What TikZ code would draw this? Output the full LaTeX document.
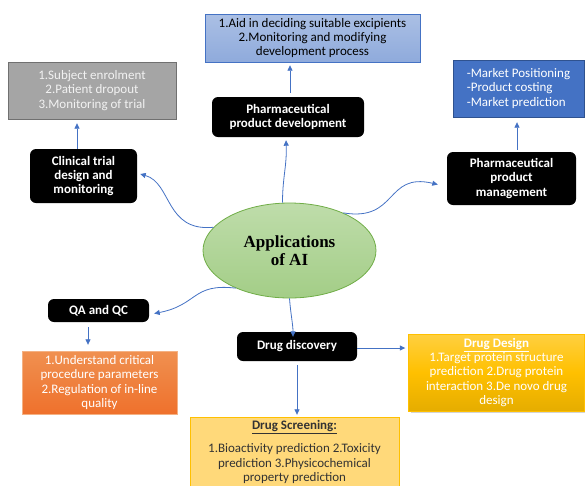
\documentclass[tikz,border=0pt]{standalone}
\usepackage{fontspec}
\setmainfont{Carlito}
\newfontfamily\serifbold{Liberation Serif}
\usetikzlibrary{arrows.meta,shadows,shapes.geometric}

\definecolor{linkblue}{HTML}{4472C4}
\definecolor{darkblue}{HTML}{2F528F}
\definecolor{palegreen}{HTML}{A9D18E}
\definecolor{leafgreen}{HTML}{70AD47}
\definecolor{boxgrey}{HTML}{A5A5A5}
\definecolor{edgegrey}{HTML}{707070}
\definecolor{boxorange}{HTML}{ED7D31}
\definecolor{lightorange}{HTML}{F4B183}
\definecolor{gold}{HTML}{FFC000}
\definecolor{paleyellow}{HTML}{FFD97A}

\tikzset{
  link/.style={draw=linkblue, line width=0.8pt, -{Triangle[length=5.5pt,width=5pt]}},
  topic/.style={fill=black, text=white, rounded corners=6pt, align=center, inner sep=0pt,
    font=\fontsize{13}{14.3}\selectfont\bfseries},
  infobox/.style={draw, align=center, inner sep=0pt, font=\fontsize{13}{14.3}\selectfont},
}

\begin{document}
\begin{tikzpicture}[x=1pt,y=-1pt]
	\useasboundingbox (0,0) rectangle (585,485);

	% Centre
	\node[ellipse, draw=leafgreen, line width=0.8pt, top color=palegreen!75!white, bottom color=palegreen!90!leafgreen,
		minimum width=173pt, minimum height=95pt, align=center, inner sep=0pt,
		font=\serifbold\fontsize{17}{18}\selectfont\bfseries] (ai) at (289.5,250.5) {Applications\\of AI};

	% Application areas
	\node[topic, minimum width=152pt, minimum height=40pt] (devbox) at (288,117) {Pharmaceutical\\product development};
	\node[topic, minimum width=107pt, minimum height=54pt] (trialbox) at (83.5,176) {Clinical trial\\design and\\monitoring};
	\node[topic, minimum width=129pt, minimum height=53pt] (mgmtbox) at (511.5,178.5) {Pharmaceutical\\product\\management};
	\node[topic, minimum width=101pt, minimum height=23pt] (qabox) at (98.5,310.5) {QA and QC};
	\node[topic, minimum width=120pt, minimum height=29pt] (ddbox) at (297,346.5) {Drug discovery};

	% Details
	\node[infobox, draw=linkblue, top color=linkblue!45!white, bottom color=linkblue!60!white,
		minimum width=215pt, minimum height=48pt] (devtxt) at (312.5,38)
		{1.Aid in deciding suitable excipients\\2.Monitoring and modifying\\development process};
	\node[infobox, draw=edgegrey, fill=boxgrey, text=white!95!black,
		minimum width=168pt, minimum height=57pt] (trialtxt) at (92,90.5)
		{1.Subject enrolment\\2.Patient dropout\\3.Monitoring of trial};
	\node[infobox, draw=darkblue, fill=linkblue, text=white, align=left,
		minimum width=131pt, minimum height=57pt] (mgmttxt) at (518.5,88.5)
		{-Market Positioning\\-Product costing\\-Market prediction};
	\node[infobox, draw=lightorange, text=white, top color=boxorange!85!white, bottom color=boxorange!90!red,
		minimum width=155pt, minimum height=63pt] (qatxt) at (99.5,382.5)
		{1.Understand critical\\procedure parameters\\2.Regulation of in-line\\quality};
	\node[infobox, draw=gold, text=white, top color=gold!75!white, bottom color=gold!90!black, middle color=gold,
		drop shadow={opacity=0.35, shadow xshift=2pt, shadow yshift=-2pt},
		minimum width=176pt, minimum height=77pt] (designtxt) at (496.5,372.5)
		{\underline{\textbf{Drug Design}}\\1.Target protein structure\\prediction 2.Drug protein\\interaction 3.De novo drug\\design};
	\node[infobox, draw=gold, fill=paleyellow, text=black!80,
		minimum width=209pt, minimum height=70pt] (screentxt) at (294.5,452)
		{\underline{\textbf{Drug Screening:}}\\[9pt]1.Bioactivity prediction 2.Toxicity\\prediction 3.Physicochemical\\property prediction};

	% Curved links from the centre
	\draw[link] ([xshift=-7pt]ai.north) .. controls +(0,-25) and +(1,25) .. ([xshift=-2pt,yshift=-3pt]devbox.south);
	\draw[link] (ai.163) .. controls (165,232) and (172,183) .. ([xshift=3pt,yshift=2pt]trialbox.east);
	\draw[link] (ai.35) .. controls (398,222) and (385,172) .. ([xshift=-9pt,yshift=-6pt]mgmtbox.west);
	\draw[link] (ai.215) .. controls (192,283) and (198,305) .. ([xshift=5pt,yshift=-3pt]qabox.east);
	\draw[link] (ai.south) .. controls +(1,14) and +(0,-12) .. ([xshift=-4pt,yshift=-5pt]ddbox.north);

	% Straight links to the details
	\draw[link, shorten <=4pt, shorten >=3pt] ([xshift=2pt]devbox.north) -- ([xshift=2pt]devbox.north |- devtxt.south);
	\draw[link, shorten >=4pt] ([xshift=-6.5pt]trialbox.north) -- ([xshift=-6.5pt]trialbox.north |- trialtxt.south);
	\draw[link, shorten <=2pt, shorten >=5pt] ([xshift=5.5pt]mgmtbox.north) -- ([xshift=5.5pt]mgmtbox.north |- mgmttxt.south);
	\draw[link, shorten <=5pt, shorten >=6pt] ([xshift=-10.5pt]qabox.south) -- ([xshift=-10.5pt]qabox.south |- qatxt.north);
	\draw[link, shorten >=3pt] ([yshift=-1.5pt]ddbox.east) -- ([yshift=-1.5pt]ddbox.east -| designtxt.west);
	\draw[link, shorten <=4pt, shorten >=2pt] (ddbox.south) -- (ddbox.south |- screentxt.north);
\end{tikzpicture}
\end{document}
